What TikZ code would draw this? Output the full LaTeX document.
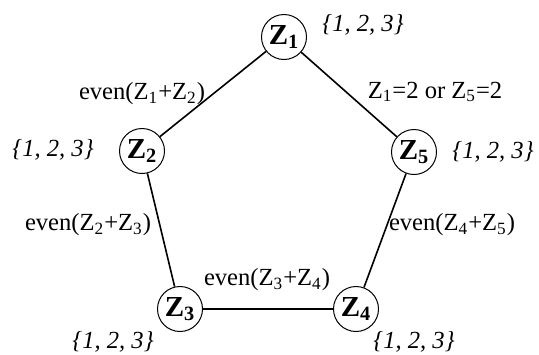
\documentclass[tikz,border=0pt]{standalone}
\usepackage{fontspec}
\setmainfont{Liberation Serif}
\usepackage{tikz}
\usetikzlibrary{positioning}

\newcommand{\zv}[1]{Z\textsubscript{#1}}

\begin{document}
\begin{tikzpicture}[
  x=0.5pt, y=-0.5pt,
  font=\fontsize{12.3}{14}\selectfont,
  var/.style={draw, circle, line width=0.5pt, minimum size=22.5pt, inner sep=0pt, font=\fontsize{14.5}{16}\selectfont\bfseries},
  dom/.style={font=\fontsize{12.3}{14}\selectfont\itshape},
  con/.style={inner sep=1pt},
  edge/.style={line width=0.8pt}
]
  \useasboundingbox (0,0) rectangle (539,354);

  % Nodes
  \node[var] (z1) at (284,37) {\zv{1}};
  \node[var] (z2) at (142,151) {\zv{2}};
  \node[var] (z5) at (414,152) {\zv{5}};
  \node[var] (z3) at (180,309) {\zv{3}};
  \node[var] (z4) at (356,309) {\zv{4}};

  % Domains
  \node[dom] (d1) at (363,25) {\{1, 2, 3\}};
  \node[dom] (d2) at (53,150) {\{1, 2, 3\}};
  \node[dom] (d5) at (493,152) {\{1, 2, 3\}};
  \node[dom] (d3) at (113,342) {\{1, 2, 3\}};
  \node[dom] (d4) at (414,342) {\{1, 2, 3\}};

  % Constraints
  \node[con] (c12) at (142,94) {even(\zv{1}+\zv{2})};
  \node[con] (c15) at (435,92) {\zv{1}=2 or \zv{5}=2};
  \node[con] (c23) at (88,225) {even(\zv{2}+\zv{3})};
  \node[con] (c45) at (452,225) {even(\zv{4}+\zv{5})};
  \node[con] (c34) at (267,280) {even(\zv{3}+\zv{4})};

  % Edges
  \draw[edge] (z1) -- (z2);
  \draw[edge] (z1) -- (z5);
  \draw[edge] (z2) -- (z3);
  \draw[edge] (z5) -- (z4);
  \draw[edge] (z3) -- (z4);
\end{tikzpicture}
\end{document}
